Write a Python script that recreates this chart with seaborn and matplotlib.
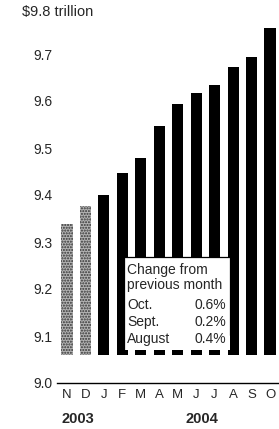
import matplotlib
matplotlib.use("Agg")
import matplotlib.pyplot as plt
import seaborn as sns
import pandas as pd
from matplotlib.patches import Rectangle
from matplotlib.lines import Line2D

# ---- data ----
months = ["N", "D", "J", "F", "M", "A", "M", "J", "J", "A", "S", "O"]
values = [9.338, 9.377, 9.400, 9.447, 9.479, 9.547, 9.594, 9.617, 9.634, 9.672, 9.694, 9.755]
kind = ["stipple", "stipple"] + ["solid"] * 10
yticks = [9.0, 9.1, 9.2, 9.3, 9.4, 9.5, 9.6, 9.7]
year_labels = ["2003", "2004"]
box_title = ["Change from", "previous month"]
box_months = ["Oct.", "Sept.", "August"]
box_changes = ["0.6%", "0.2%", "0.4%"]
unit_label = "$9.8 trillion"

sns.set_style("white")
plt.rcParams["font.family"] = ["Liberation Sans", "DejaVu Sans"]

W, H = 279, 429
fig = plt.figure(figsize=(W / 100, H / 100), dpi=100)

def fx(px):
    return px / W

def fy(py):
    return 1 - py / H

ax_left, ax_right = 57, 279
ax_top, ax_bot = 7, 383
ax = fig.add_axes([fx(ax_left), fy(ax_bot), fx(ax_right - ax_left), (ax_bot - ax_top) / H])

df = pd.DataFrame({"idx": range(len(months)), "value": values, "kind": kind})
sns.barplot(data=df, x="idx", y="value", hue="kind",
            palette={"stipple": "#b4b4b4", "solid": "black"},
            width=0.6, legend=False, ax=ax, linewidth=0, saturation=1)

base = 9.06
for p in ax.patches:
    top = p.get_y() + p.get_height()
    p.set_y(base)
    p.set_height(top - base)
    cx = p.get_x() + p.get_width() / 2
    if kind[int(round(cx))] == "stipple":
        p.set_hatch("......")
        p.set_edgecolor("#333333")
        p.set_linewidth(0)

ax.set_ylim(9.0, 9.8)
spacing = (270 - 67) / 11
ax.set_xlim((ax_left - 67) / spacing, (ax_right - 67) / spacing)
ax.set_yticks(yticks)
ax.set_yticklabels([f"{t:.1f}" for t in yticks], fontsize=10)
ax.set_xticks(range(len(months)))
ax.set_xticklabels(months, fontsize=9.5)
ax.tick_params(axis="both", length=0)
ax.tick_params(axis="y", pad=3)
ax.tick_params(axis="x", pad=4)
ax.set_xlabel("")
ax.set_ylabel("")
for s in ["top", "right", "left"]:
    ax.spines[s].set_visible(False)
ax.spines["bottom"].set_color("black")
ax.spines["bottom"].set_linewidth(1.0)

# unit label
fig.text(fx(22), fy(12), unit_label, fontsize=10.5, ha="left", va="center")

# year labels
fig.text(fx(62), fy(419), year_labels[0], fontsize=10.5, fontweight="bold", ha="left", va="center")
fig.text(fx(185), fy(419), year_labels[1], fontsize=10.5, fontweight="bold", ha="left", va="center")

# change box
bx0, bx1, by0, by1 = 124, 230, 257, 350
rect = Rectangle((fx(bx0), fy(by1)), fx(bx1 - bx0), (by1 - by0) / H,
                 transform=fig.transFigure, facecolor="white", edgecolor="none",
                 linewidth=0, zorder=5)
fig.patches.append(rect)
for xs, ys in [([bx0, bx0], [by1, by0]), ([bx0, bx1], [by0, by0]), ([bx1, bx1], [by0, 335])]:
    fig.lines.append(Line2D([fx(v) for v in xs], [fy(v) for v in ys],
                            transform=fig.transFigure, color="black", linewidth=0.9, zorder=6))
fig.text(fx(127), fy(270), box_title[0], fontsize=10, ha="left", va="center", zorder=7)
fig.text(fx(127), fy(285), box_title[1], fontsize=10, ha="left", va="center", zorder=7)
for i, (m, c) in enumerate(zip(box_months, box_changes)):
    y = 305 + i * 17
    fig.text(fx(127), fy(y), m, fontsize=10, ha="left", va="center", zorder=7)
    fig.text(fx(226), fy(y), c, fontsize=10, ha="right", va="center", zorder=7)

fig.savefig("out.png", dpi=100)
